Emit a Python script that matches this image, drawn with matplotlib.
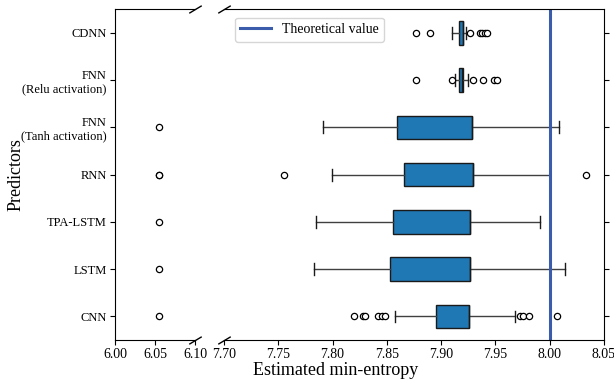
import matplotlib
matplotlib.use("Agg")
import matplotlib.pyplot as plt

plt.rcParams["font.family"] = ["Liberation Serif", "DejaVu Serif"]

# predictors, bottom to top
predictors = ["CNN", "LSTM", "TPA-LSTM", "RNN",
              "FNN\n(Tanh activation)", "FNN\n(Relu activation)", "CDNN"]

q1 = [7.8950, 7.8529, 7.8553, 7.8657, 7.8590, 7.9164, 7.9166]
med = [7.9259, 7.9265, 7.9265, 7.9296, 7.9286, 7.9196, 7.9200]
q3 = [7.9259, 7.9265, 7.9265, 7.9296, 7.9286, 7.9198, 7.9204]
whislo = [7.8575, 7.7832, 7.7847, 7.7998, 7.7915, 7.9127, 7.9103]
whishi = [7.9680, 8.0143, 7.9910, 8.0002, 8.0085, 7.9250, 7.9231]
fliers = [
    [6.0545, 7.8197, 7.8277, 7.8298, 7.8420, 7.8452, 7.8483,
     7.9726, 7.9750, 7.9810, 8.0063],
    [6.0545],
    [6.0545],
    [6.0545, 6.0545, 7.7553, 8.0333],
    [6.0545],
    [7.8768, 7.9100, 7.9290, 7.9390, 7.9485, 7.9510],
    [7.8768, 7.8897, 7.9265, 7.9355, 7.9380, 7.9400, 7.9425],
]

theoretical = 8.0

stats = []
for i, name in enumerate(predictors):
    stats.append(dict(label=name, q1=q1[i], med=med[i], q3=q3[i],
                      whislo=whislo[i], whishi=whishi[i], fliers=fliers[i]))

fig = plt.figure(figsize=(6.14, 3.80), dpi=100)
ax1 = fig.add_axes([0.1873, 0.105, 0.1303, 0.871])
ax2 = fig.add_axes([0.3648, 0.105, 0.6189, 0.871])

box_kw = dict(
    vert=False, widths=0.5, patch_artist=True,
    boxprops=dict(facecolor="#1f77b4", edgecolor="0.1", linewidth=1.0),
    medianprops=dict(color="0.1", linewidth=1.0),
    whiskerprops=dict(color="0.25", linewidth=1.0),
    capprops=dict(color="0.1", linewidth=1.0),
    flierprops=dict(marker="o", markersize=4.5, markerfacecolor="white",
                    markeredgecolor="black", markeredgewidth=0.9),
)
pos = list(range(1, len(predictors) + 1))
ax1.bxp(stats, positions=pos, **box_kw)
ax2.bxp(stats, positions=pos, **box_kw)

line = ax2.axvline(theoretical, color="#3b5bab", linewidth=2.2,
                   label="Theoretical value")

ax1.set_xlim(6.00, 6.10)
ax2.set_xlim(7.70, 8.05)
for ax in (ax1, ax2):
    ax.set_ylim(0.5, len(predictors) + 0.5)
    ax.tick_params(labelsize=10, pad=2.5)

ax1.set_xticks([6.00, 6.05, 6.10])
ax1.set_xticklabels(["6.00", "6.05", "6.10"])
ax2.set_xticks([7.70, 7.75, 7.80, 7.85, 7.90, 7.95, 8.00, 8.05])
ax2.set_xticklabels(["7.70", "7.75", "7.80", "7.85", "7.90", "7.95", "8.00", "8.05"])

ax1.set_yticks(pos)
ax1.set_yticklabels(predictors, fontsize=9)
ax2.set_yticks(pos)
ax2.yaxis.tick_right()
ax2.tick_params(axis="y", labelright=False)

ax1.spines["right"].set_visible(False)
ax2.spines["left"].set_visible(False)

# diagonal break marks
d = 0.6
kw = dict(marker=[(-1, -d), (1, d)], markersize=9, linestyle="none",
          color="k", mec="k", mew=1, clip_on=False)
ax1.plot([1, 1], [0, 1], transform=ax1.transAxes, **kw)
ax2.plot([0, 0], [0, 1], transform=ax2.transAxes, **kw)

ax2.legend(handles=[line], loc="upper left", fontsize=10,
           bbox_to_anchor=(0.01, 0.995), handlelength=2.2)

fig.text(0.546, 0.014, "Estimated min-entropy", ha="center", fontsize=13)
fig.text(0.012, 0.54, "Predictors", va="center", rotation=90, fontsize=13)

fig.savefig("out.png", dpi=100)
